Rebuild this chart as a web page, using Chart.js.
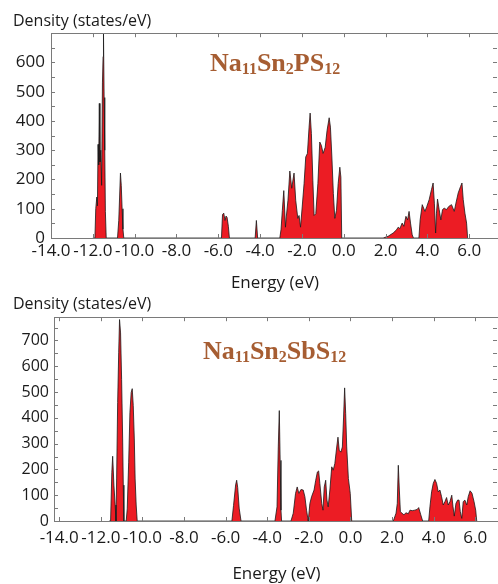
<!DOCTYPE html>
<html>
<head>
<meta charset="utf-8">
<script src="https://cdn.jsdelivr.net/npm/chart.js@4"></script>
<style>
  body { margin: 0; background: #fff; }
  #wrap { position: relative; width: 498px; height: 584px; overflow: hidden; }
  canvas { position: absolute; left: 0; }
  .formula { position: absolute; font-family: "Liberation Serif", "Times New Roman", serif; font-weight: bold;
             font-size: 26px; line-height: 26px; color: #a65d32; white-space: nowrap; }
  .formula span { font-size: 16px; vertical-align: -3px; }
</style>
</head>
<body>
<div id="wrap">
  <canvas id="topChart" width="500" height="300" style="top:0"></canvas>
  <canvas id="bottomChart" width="500" height="296" style="top:288px"></canvas>
  <div class="formula" style="left:210px; top:50px">Na<span>11</span>Sn<span>2</span>PS<span>12</span></div>
  <div class="formula" style="left:203px; top:338px">Na<span>11</span>Sn<span>2</span>SbS<span>12</span></div>
</div>
<script>
// --- datos ---
const xTicks = [-14, -12, -10, -8, -6, -4, -2, 0, 2, 4, 6];
const yTicksTop = [0, 100, 200, 300, 400, 500, 600];
const yTicksBottom = [0, 100, 200, 300, 400, 500, 600, 700];

// Na11Sn2PS12
const energyTop = [
  -12.00, -11.90, -11.86, -11.81, -11.78, -11.75, -11.72, -11.69, -11.66, -11.62, -11.58, -11.54, -11.51, -11.49, -11.46, -11.43, -11.40, -11.36,
  -10.82, -10.76, -10.72, -10.68, -10.64, -10.60, -10.56, -10.52,
  -5.85, -5.80, -5.74, -5.68, -5.63, -5.58, -5.52, -5.47,
  -4.24, -4.18, -4.12,
  -3.06, -3.00, -2.94, -2.87, -2.79, -2.75, -2.67, -2.58, -2.49, -2.38, -2.30, -2.20, -2.14, -2.07, -1.99, -1.90, -1.82, -1.74, -1.66, -1.61,
  -1.55, -1.48, -1.42, -1.34, -1.24, -1.15, -1.07, -0.99, -0.89, -0.80, -0.70, -0.64, -0.57, -0.50, -0.43, -0.35, -0.27, -0.19, -0.14, -0.10,
  1.88, 2.12, 2.36, 2.52, 2.60, 2.68, 2.79, 2.87, 2.97, 3.05, 3.12, 3.19, 3.27, 3.33,
  3.59, 3.65, 3.75, 3.88, 3.97, 4.08, 4.19, 4.27, 4.33, 4.39, 4.43, 4.48, 4.56, 4.64, 4.72, 4.80, 4.91, 5.02, 5.15, 5.28, 5.36, 5.47, 5.58, 5.65, 5.71, 5.79, 5.87, 5.92
];
const densityTop = [
  0, 0, 100, 140, 110, 320, 250, 460, 260, 300, 180, 530, 620, 700, 480, 300, 90, 0,
  0, 60, 140, 222, 180, 100, 30, 0,
  0, 80, 85, 60, 75, 70, 40, 0,
  0, 60, 0,
  0, 30, 94, 162, 37, 72, 129, 229, 170, 222, 129, 67, 77, 37, 106, 186, 277, 289, 379, 427,
  357, 197, 77, 83, 186, 328, 316, 289, 310, 368, 411, 379, 277, 152, 67, 95, 186, 242, 208, 0,
  0, 6, 17, 28, 37, 32, 51, 40, 74, 62, 91, 51, 11, 0,
  0, 62, 114, 91, 108, 131, 165, 188, 119, 17, 85, 133, 97, 62, 97, 102, 97, 108, 114, 91, 119, 154, 176, 188, 131, 85, 51, 0
];

// Na11Sn2SbS12
const energyBottom = [
  -11.60, -11.53, -11.47, -11.43, -11.37, -11.31, -11.27, -11.24, -11.19, -11.14, -11.10, -11.05, -11.00, -10.95, -10.92, -10.89,
  -10.78, -10.73, -10.66, -10.60, -10.54, -10.49, -10.44, -10.39, -10.35, -10.30, -10.25,
  -5.70, -5.62, -5.52, -5.47, -5.42, -5.35, -5.26,
  -3.63, -3.53, -3.47, -3.42, -3.38, -3.34, -3.31,
  -2.86, -2.75, -2.64, -2.56, -2.48, -2.38, -2.27, -2.19, -2.11, -2.03, -1.95, -1.87, -1.75, -1.67, -1.59, -1.53, -1.47, -1.38, -1.32,
  -1.26, -1.19, -1.13, -1.07, -0.99, -0.90, -0.83, -0.75, -0.66, -0.60, -0.54, -0.46, -0.39, -0.33, -0.28, -0.23, -0.18, -0.10, -0.01, 0.06,
  2.06, 2.19, 2.25, 2.30, 2.35, 2.40, 2.48, 2.57, 2.67, 2.78, 2.86, 2.97, 3.09, 3.21, 3.28, 3.38, 3.47,
  3.76, 3.82, 3.90, 3.98, 4.06, 4.14, 4.22, 4.30, 4.38, 4.46, 4.54, 4.62, 4.70, 4.78, 4.87, 4.93, 4.99, 5.07, 5.15, 5.22, 5.28, 5.35,
  5.42, 5.50, 5.59, 5.66, 5.75, 5.84, 5.94, 6.02, 6.07
];
const densityBottom = [
  0, 0, 189, 251, 139, 62, 0, 163, 459, 652, 781, 729, 549, 318, 139, 0,
  0, 47, 228, 421, 498, 513, 447, 318, 163, 62, 0,
  0, 60, 140, 158, 130, 50, 0,
  0, 55, 287, 428, 235, 42, 0,
  0, 30, 107, 132, 107, 122, 120, 94, 42, 0, 68, 94, 120, 158, 190, 194, 145, 68, 42,
  132, 158, 81, 55, 120, 210, 197, 223, 287, 325, 274, 267, 287, 403, 516, 416, 287, 165, 107, 0,
  0, 30, 68, 216, 120, 36, 30, 24, 32, 28, 42, 40, 42, 45, 52, 24, 0,
  0, 55, 113, 146, 161, 146, 113, 120, 94, 62, 75, 91, 62, 75, 100, 55, 19, 68, 81, 81, 36, 10,
  75, 81, 62, 94, 117, 108, 75, 42, 0
];

const FONT = '"Open Sans", "DejaVu Sans", sans-serif';
const TEXT = '#1a1a1a';

// marco gris con marcas hacia dentro
const framePlugin = {
  id: 'frame',
  afterDatasetsDraw(chart) {
    const { ctx, chartArea: a, scales: { x, y } } = chart;
    ctx.save();
    ctx.strokeStyle = '#7a7a7a';
    ctx.lineWidth = 1;
    ctx.strokeRect(Math.round(a.left) + 0.5, Math.round(a.top) + 0.5, Math.round(a.width) - 1, Math.round(a.height));
    ctx.beginPath();
    x.ticks.forEach(t => {
      const px = Math.round(x.getPixelForValue(t.value)) + 0.5;
      ctx.moveTo(px, a.bottom); ctx.lineTo(px, a.bottom - 4);
      ctx.moveTo(px, a.top); ctx.lineTo(px, a.top + 4);
    });
    for (let v = 0; v <= y.max; v += 50) {
      const py = Math.round(y.getPixelForValue(v)) + 0.5;
      ctx.moveTo(a.left, py); ctx.lineTo(a.left + 4, py);
      ctx.moveTo(a.right - 2, py); ctx.lineTo(a.right - 6, py);
    }
    ctx.stroke();
    ctx.restore();
  }
};

function makeChart(id, energy, density, s) {
  const ctx = document.getElementById(id).getContext('2d');
  return new Chart(ctx, {
    type: 'line',
    data: {
      datasets: [{
        data: energy.map((e, i) => ({ x: e, y: density[i] })),
        borderColor: TEXT,
        borderWidth: 0.8,
        backgroundColor: '#ec1c24',
        fill: 'origin',
        pointRadius: 0,
        tension: 0
      }]
    },
    options: {
      responsive: false,
      animation: false,
      layout: { padding: { left: 13, right: 1, top: 0, bottom: 0 } },
      plugins: {
        legend: { display: false },
        tooltip: { enabled: false },
        title: {
          display: true, text: 'Density (states/eV)', align: 'start', color: TEXT,
          font: { family: FONT, size: 16, weight: 'normal' },
          padding: { top: s.titleTop, bottom: s.titleBottom }
        }
      },
      scales: {
        x: {
          type: 'linear', min: s.xMin, max: s.xMax,
          grid: { display: false, drawTicks: false },
          border: { display: false },
          afterBuildTicks: sc => { sc.ticks = xTicks.map(v => ({ value: v })); },
          afterFit: sc => { sc.height = s.xHeight; },
          ticks: {
            padding: s.xPad, color: TEXT, maxRotation: 0, autoSkip: false,
            font: { family: FONT, size: 17 },
            callback: v => Number(v).toFixed(1)
          },
          title: {
            display: true, text: 'Energy (eV)', color: TEXT,
            font: { family: FONT, size: 17 },
            padding: { top: 0, bottom: s.xTitlePad }
          }
        },
        y: {
          min: 0, max: s.yMax,
          grid: { display: false, drawTicks: false },
          border: { display: false },
          afterBuildTicks: sc => { sc.ticks = s.yTicks.map(v => ({ value: v })); },
          afterFit: sc => { sc.width = s.yWidth; },
          ticks: { padding: s.yPad, color: TEXT, font: { family: FONT, size: s.yFont } }
        }
      }
    },
    plugins: [framePlugin]
  });
}

makeChart('topChart', energyTop, densityTop, {
  xMin: -14, xMax: 7.42, yMax: 700, yTicks: yTicksTop,
  titleTop: 12, titleBottom: 2, xHeight: 62, xPad: 3, xTitlePad: 7,
  yWidth: 38, yPad: 6, yFont: 17
});

makeChart('bottomChart', energyBottom, densityBottom, {
  xMin: -14.25, xMax: 7.14, yMax: 790, yTicks: yTicksBottom,
  titleTop: 7, titleBottom: 3, xHeight: 63, xPad: 7, xTitlePad: 0,
  yWidth: 41, yPad: 5, yFont: 16
});
</script>
</body>
</html>
